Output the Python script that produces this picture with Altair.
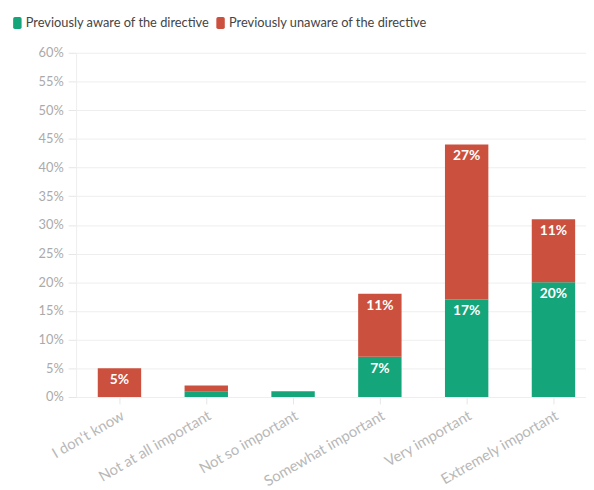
import altair as alt
import pandas as pd

categories = ["I don't know", "Not at all important", "Not so important",
              "Somewhat important", "Very important", "Extremely important"]
aware = [0, 1, 1, 7, 17, 20]
unaware = [5, 1, 0, 11, 27, 11]
series = ["Previously aware of the directive", "Previously unaware of the directive"]
colors = ["#14a67a", "#cc503e"]

rows = []
for i, c in enumerate(categories):
    rows.append({"category": c, "group": series[0], "value": aware[i], "order": 0})
    rows.append({"category": c, "group": series[1], "value": unaware[i], "order": 1})
df = pd.DataFrame(rows)

FONT = "Lato"
# rounded rectangle in the [-1, 1] unit box used by Vega custom symbols
rounded = ("M-0.4,-1 L0.4,-1 Q0.7,-1 0.7,-0.7 L0.7,0.7 Q0.7,1 0.4,1 "
           "L-0.4,1 Q-0.7,1 -0.7,0.7 L-0.7,-0.7 Q-0.7,-1 -0.4,-1 Z")

base = alt.Chart(df).transform_stack(
    stack="value", as_=["bottom", "top"], groupby=["category"],
    sort=[alt.SortField("order", order="ascending")]
)

x_scale = alt.Scale(paddingInner=0.5, paddingOuter=0.1875, align=0.667)
x_axis = alt.Axis(labelAngle=330, labelColor="#b8b8b8", labelFontSize=15,
                  labelFont=FONT, tickColor="#e6e6e6", tickSize=7,
                  domainColor="#eeeeee", labelPadding=4, labelOverlap=False, grid=False)

y_scale = alt.Scale(domain=[0, 60], nice=False)
y_axis = alt.Axis(values=list(range(0, 61, 5)), labelExpr="datum.value + '%'",
                  labelColor="#aaaaaa", labelFontSize=13, labelFont=FONT,
                  tickColor="#e6e6e6", tickSize=8, gridColor="#eeeeee", grid=True,
                  domainColor="#eeeeee", labelPadding=5, labelOverlap=False)

legend = alt.Legend(
    title=None, orient="none", direction="horizontal",
    legendX=-66, legendY=-37, symbolType=rounded, symbolSize=150,
    symbolStrokeWidth=0, symbolOpacity=1,
    labelFont=FONT, labelFontSize=13, labelColor="#444444",
    columnPadding=4, labelOffset=2, labelLimit=0,
)

bars = base.mark_bar().encode(
    x=alt.X("category:N", sort=categories, title=None, scale=x_scale, axis=x_axis),
    y=alt.Y("bottom:Q", scale=y_scale, title=None, axis=y_axis),
    y2="top:Q",
    color=alt.Color("group:N", scale=alt.Scale(domain=series, range=colors), legend=legend),
)

labels = base.transform_filter("datum.value >= 5").transform_calculate(
    label="datum.value + '%'"
).mark_text(
    color="white", font=FONT, fontWeight="bold", fontSize=14, baseline="middle", dy=12
).encode(
    x=alt.X("category:N", sort=categories, title=None, scale=x_scale, axis=x_axis),
    y=alt.Y("top:Q", scale=y_scale, title=None, axis=y_axis),
    text=alt.Text("label:N"),
)

chart = alt.layer(bars, labels).properties(
    width=517, height=349,
    autosize=alt.AutoSizeParams(type="none"),
    padding={"left": 69, "top": 42, "right": 0, "bottom": 100},
).configure_view(stroke=None).configure_legend(
    symbolType=rounded, symbolSize=150, symbolStrokeWidth=0
)

chart.save("out.html", embed_options={"renderer": "svg", "actions": False})
